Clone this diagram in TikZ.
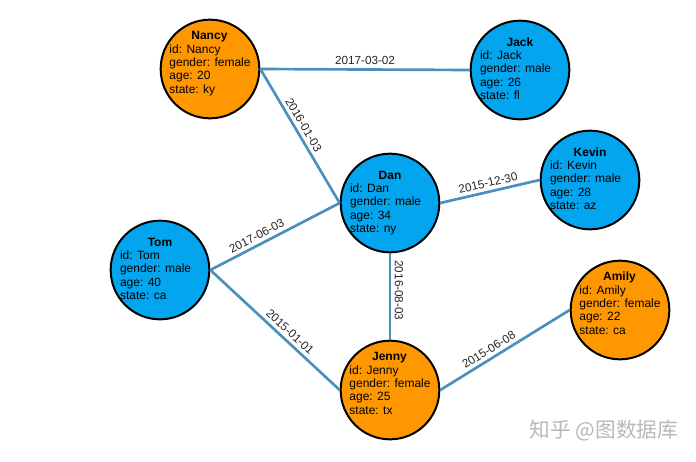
\documentclass[tikz,border=0pt]{standalone}
\usepackage{fontspec}
\setmainfont{Liberation Sans}
\newfontfamily\cjk{Noto Sans CJK SC}
\usepackage{tikz}

\definecolor{maleblue}{HTML}{03A6EE}
\definecolor{femaleorange}{HTML}{FF9800}
\definecolor{linkblue}{HTML}{4A8FBE}

\newcommand{\person}[4]{%
  \begin{tabular}{@{}l@{}}
    \makebox[60pt]{\textbf{#1}}\\
    id: #1\\ gender: #2\\ age: #3\\ state: #4
  \end{tabular}}

\begin{document}
\begin{tikzpicture}
  [x=0.75pt,y=-0.75pt,
   person/.style={circle,draw=black,line width=1.5pt,minimum size=74pt,inner sep=0pt},
   male/.style={person,fill=maleblue},
   female/.style={person,fill=femaleorange},
   info/.style={inner sep=0pt,font=\fontsize{9}{10}\selectfont},
   info up/.style={info,yshift=4pt},
   link/.style={draw=linkblue,line width=2pt},
   date/.style={sloped,above,inner sep=2.5pt,text=black!85,font=\fontsize{8.8}{10}\selectfont}]
  \useasboundingbox (0,0) rectangle (696,461);

  \node[female] (nancy) at (210,69) {};
  \node[male]   (jack)  at (520,70) {};
  \node[male]   (dan)   at (390,203) {};
  \node[male]   (kevin) at (590,180) {};
  \node[male]   (tom)   at (160,270) {};
  \node[female] (jenny) at (390,390) {};
  \node[female] (amily) at (620,310) {};

  \node[info up] (nancy-txt) at (nancy) {\person{Nancy}{female}{20}{ky}};
  \node[info]    (jack-txt)  at (jack)  {\person{Jack}{male}{26}{fl}};
  \node[info]    (dan-txt)   at (dan)   {\person{Dan}{male}{34}{ny}};
  \node[info]    (kevin-txt) at (kevin) {\person{Kevin}{male}{28}{az}};
  \node[info]    (tom-txt)   at (tom)   {\person{Tom}{male}{40}{ca}};
  \node[info up] (jenny-txt) at (jenny) {\person{Jenny}{female}{25}{tx}};
  \node[info up] (amily-txt) at (amily) {\person{Amily}{female}{22}{ca}};

  \foreach \from/\to/\day/\where in {nancy.east/jack.west/2017-03-02/0.5,
      nancy.east/dan.west/2016-01-03/0.45, tom.east/dan.west/2017-06-03/0.39,
      tom.east/jenny.west/2015-01-01/0.57, dan.south/jenny.north/2016-08-03/0.43,
      dan.east/kevin.west/2015-12-30/0.5, jenny.east/amily.west/2015-06-08/0.41}
    \draw[link] (\from) -- node[date,pos=\where] {\day} (\to);

  \node[text=black!28,font=\cjk\fontsize{15.5}{16}\selectfont] (zhihu) at (604,431) {知乎 @图数据库};

\end{tikzpicture}
\end{document}
